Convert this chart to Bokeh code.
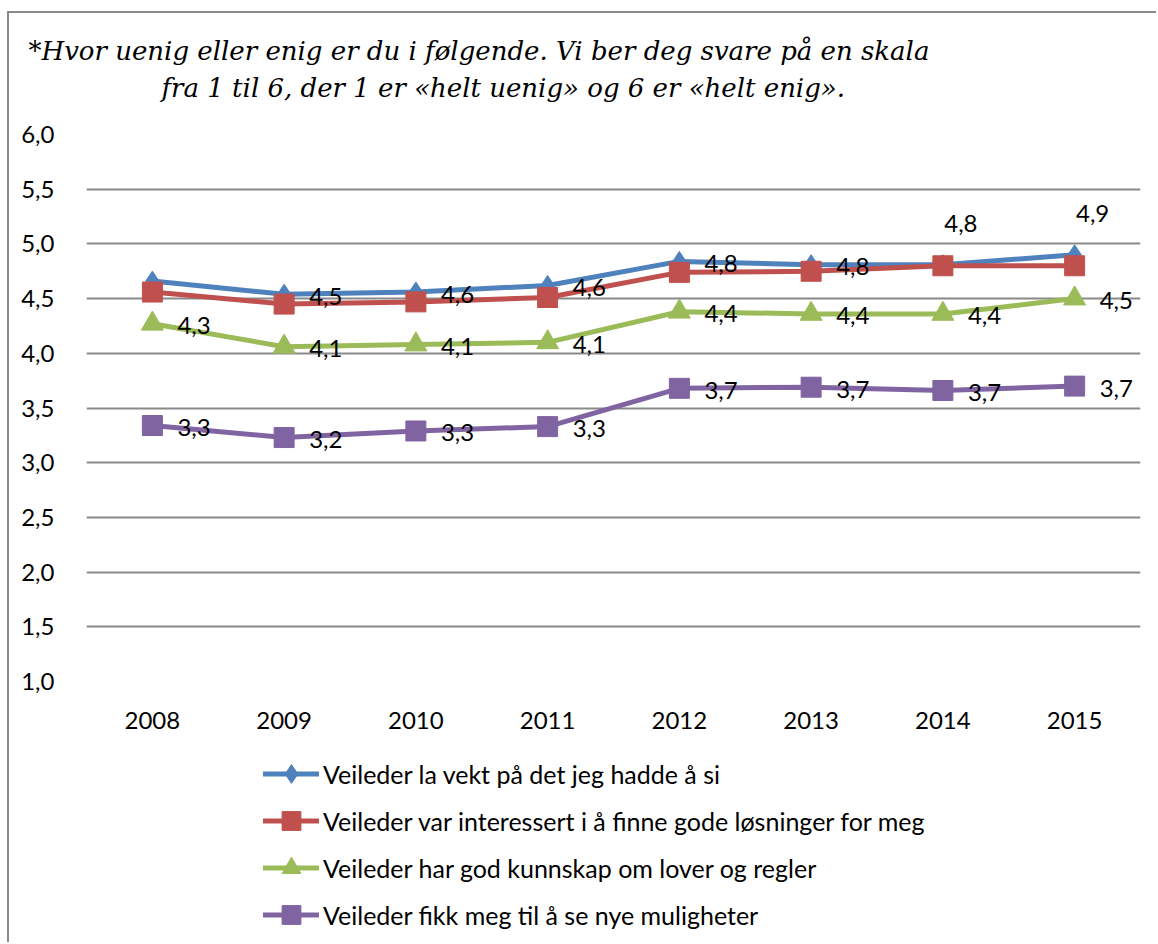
from bokeh.plotting import figure
from bokeh.layouts import column
from bokeh.models import Range1d, FactorRange, FixedTicker, Legend, LegendItem, Label
from bokeh.embed import file_html
from bokeh.resources import INLINE
from bokeh.core.properties import value

# ---------------- data ----------------
years = ["2008", "2009", "2010", "2011", "2012", "2013", "2014", "2015"]
vekt = [4.66, 4.54, 4.56, 4.62, 4.84, 4.81, 4.81, 4.90]
interessert = [4.56, 4.45, 4.47, 4.51, 4.74, 4.75, 4.80, 4.80]
kunnskap = [4.27, 4.06, 4.08, 4.10, 4.38, 4.36, 4.36, 4.50]
muligheter = [3.34, 3.23, 3.29, 3.33, 3.68, 3.69, 3.66, 3.70]
series_names = [
    "Veileder la vekt på det jeg hadde å si",
    "Veileder var interessert i å finne gode løsninger for meg",
    "Veileder har god kunnskap om lover og regler",
    "Veileder fikk meg til å se nye muligheter",
]
y_ticks = [1.0, 1.5, 2.0, 2.5, 3.0, 3.5, 4.0, 4.5, 5.0, 5.5, 6.0]
y_tick_labels = ["1,0", "1,5", "2,0", "2,5", "3,0", "3,5", "4,0", "4,5", "5,0", "5,5", "6,0"]
title_line1 = "*Hvor uenig eller enig er du i følgende. Vi ber deg svare på en skala"
title_line2 = "fra 1 til 6, der 1 er «helt uenig» og 6 er «helt enig»."

colors = ["#4F81BD", "#C0504D", "#9BBB59", "#8064A2"]
markers = ["diamond", "square", "triangle", "square"]
msizes = [20, 20, 22, 20]
FONT = "Lato"
FS = "24px"
W = 1149


def fmt(v):
    return f"{v:.1f}".replace(".", ",")


def bare(fig):
    fig.outline_line_color = None
    fig.min_border_left = fig.min_border_right = 0
    fig.min_border_top = fig.min_border_bottom = 0
    fig.frame_align = False
    return fig


# ---------------- title strip ----------------
p0 = bare(figure(width=W, height=100, x_range=Range1d(0, W), y_range=Range1d(0, 100),
                 output_backend="svg", toolbar_location=None,
                 x_axis_location=None, y_axis_location=None,
                 background_fill_color="white", border_fill_color="white"))
p0.grid.visible = False
title_kw = dict(text_font="DejaVu Serif", text_font_style="italic", text_font_size="26px",
                text_color="black", text_baseline="middle", text_align="left")
p0.add_layout(Label(x=19, y=63, text=title_line1, **title_kw))
p0.add_layout(Label(x=152, y=26, text=title_line2, **title_kw))

# ---------------- main chart ----------------
p = figure(
    width=W, height=630, x_range=FactorRange(factors=years), y_range=Range1d(1.0, 6.0),
    output_backend="svg", toolbar_location=None,
    min_border_left=77, min_border_right=18, min_border_top=21, min_border_bottom=62,
    background_fill_color="white", border_fill_color="white",
)
p.outline_line_color = None
p.frame_align = False

p.yaxis.ticker = FixedTicker(ticks=y_ticks)
p.yaxis.major_label_overrides = dict(zip(y_ticks, y_tick_labels))
for ax in (p.xaxis[0], p.yaxis[0]):
    ax.axis_line_color = None
    ax.major_tick_line_color = None
    ax.minor_tick_line_color = None
    ax.major_label_text_font = FONT
    ax.major_label_text_font_size = FS
    ax.major_label_text_color = "black"
p.yaxis.major_label_standoff = 26
p.xaxis.major_label_standoff = 24
p.xgrid.grid_line_color = None
p.ygrid.grid_line_color = "#898989"
p.ygrid.grid_line_width = 2

all_vals = [vekt, interessert, kunnskap, muligheter]
for vals, c, m, s in zip(all_vals, colors, markers, msizes):
    p.line(years, vals, line_color=c, line_width=5, line_join="round", line_cap="round")
    p.scatter(years, vals, marker=m, size=s, fill_color=c, line_color=c)

lab_kw = dict(text_font=value(FONT), text_font_size=FS, text_color="black",
              text_baseline="middle")
p.text(years[1:6], vekt[1:6], text=[fmt(v) for v in vekt[1:6]],
       x_offset=25, y_offset=2, text_align="left", **lab_kw)
p.text(years[6:], vekt[6:], text=[fmt(v) for v in vekt[6:]],
       x_offset=18, y_offset=-41, text_align="center", **lab_kw)
for vals in (kunnskap, muligheter):
    p.text(years, vals, text=[fmt(v) for v in vals],
           x_offset=25, y_offset=2, text_align="left", **lab_kw)

# ---------------- legend strip ----------------
p2 = bare(figure(width=W, height=201, x_range=FactorRange(factors=years), y_range=Range1d(0, 1),
                 output_backend="svg", toolbar_location=None,
                 x_axis_location=None, y_axis_location=None,
                 background_fill_color="white", border_fill_color="white"))
p2.grid.visible = False
items = []
for name, vals, c, m in zip(series_names, all_vals, colors, markers):
    rl = p2.line(years, vals, line_color=c, line_width=5, line_join="round", line_cap="round")
    rs = p2.scatter(years, vals, marker=m, fill_color=c, line_color=c)
    items.append(LegendItem(label=name, renderers=[rl, rs]))
legend = Legend(
    items=items, location=(254, 6), orientation="vertical",
    glyph_width=56, glyph_height=47, label_height=47, spacing=0,
    label_standoff=4, padding=0, margin=0,
    border_line_color=None, background_fill_alpha=0,
    label_text_font=FONT, label_text_font_size="25px", label_text_color="black",
)
p2.add_layout(legend, "center")

layout = column(p0, p, p2, spacing=0, margin=(13, 0, 0, 9),
                styles={"box-shadow": "-2px -2px 0px 0px #898989"})

open("out.html", "w").write(file_html(layout, INLINE))
